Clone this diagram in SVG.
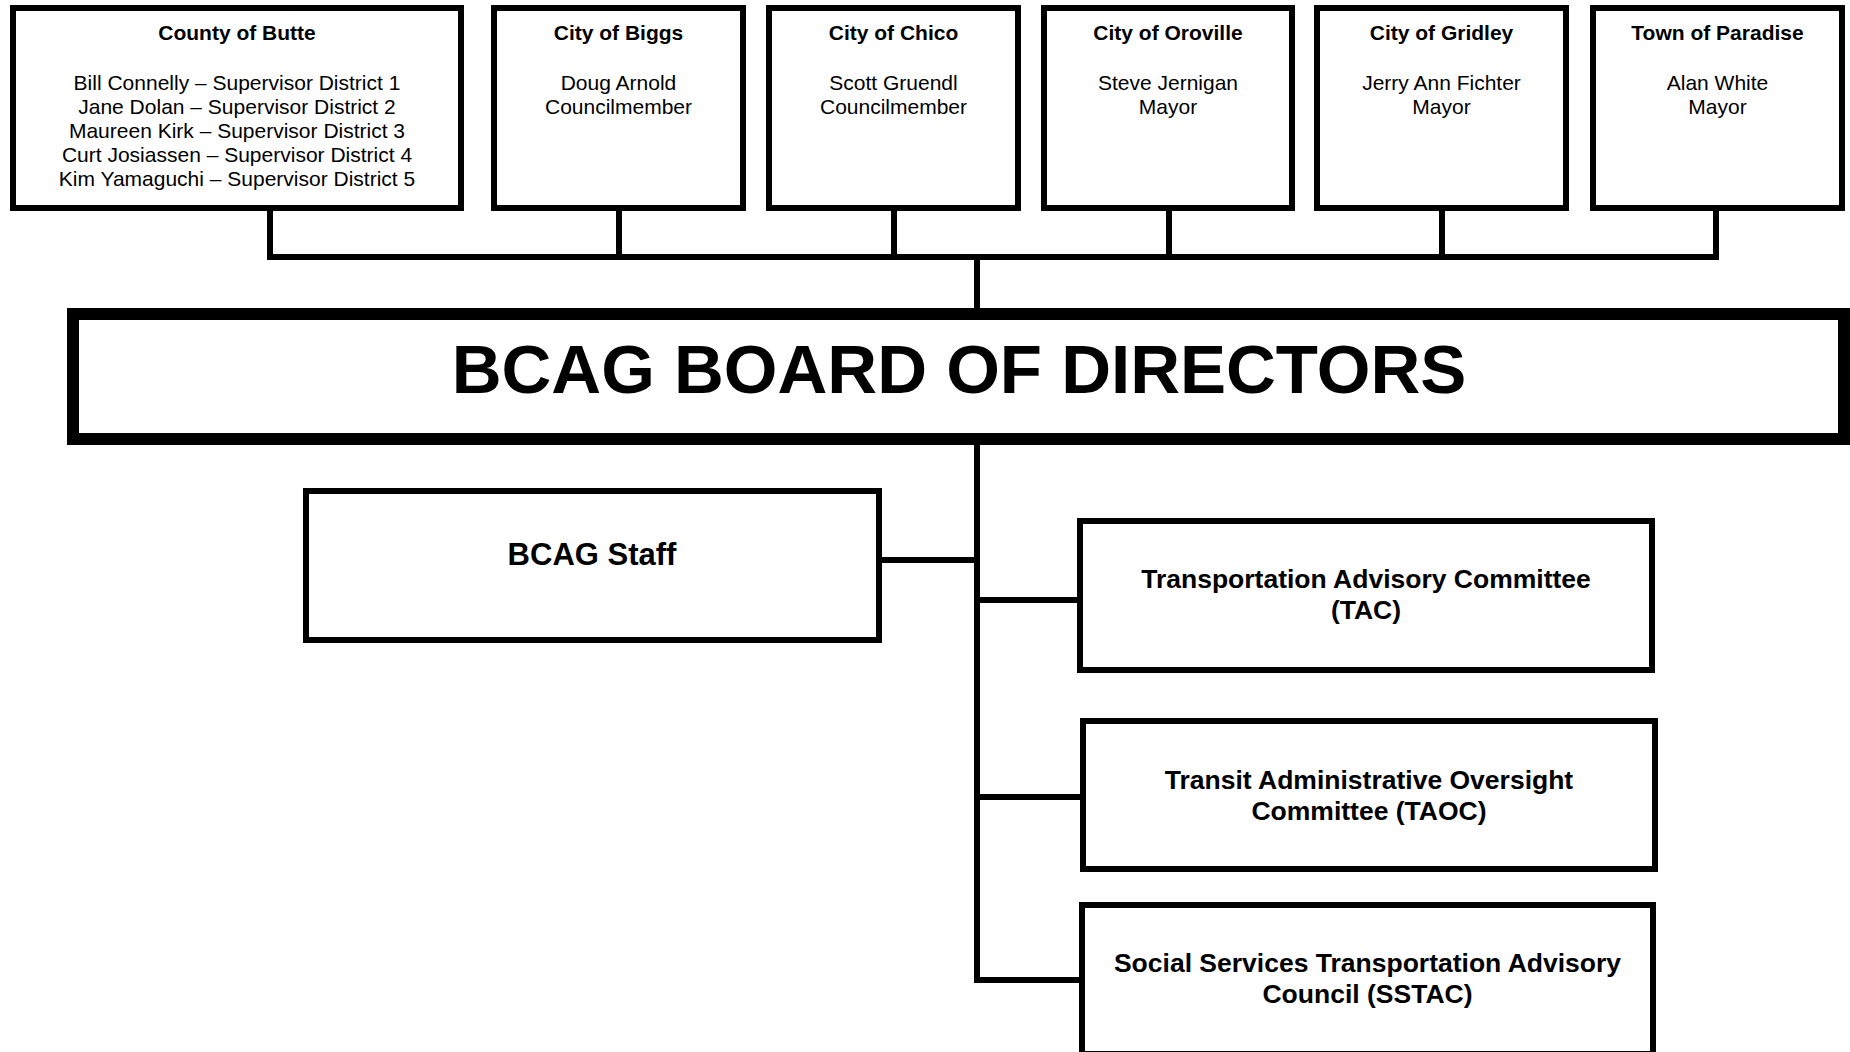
<svg xmlns="http://www.w3.org/2000/svg" width="1850" height="1052" viewBox="0 0 1850 1052">
<style>
.box{fill:#fff;stroke:#000;stroke-width:6}
.board{fill:#fff;stroke:#000;stroke-width:12}
.con{stroke:#000;stroke-width:6;fill:none;stroke-linecap:square}
text{font-family:"Liberation Sans",Arial,sans-serif;fill:#000;text-anchor:middle}
.t{font-weight:bold;font-size:21px}
.b{font-size:21px}
.c{font-weight:bold;font-size:26.5px}
</style>
<rect width="1850" height="1052" fill="#fff"/>
<g id="connectors">
<line class="con" x1="270" y1="214" x2="270" y2="257"/>
<line class="con" x1="619" y1="214" x2="619" y2="257"/>
<line class="con" x1="894" y1="214" x2="894" y2="257"/>
<line class="con" x1="1169" y1="214" x2="1169" y2="257"/>
<line class="con" x1="1442" y1="214" x2="1442" y2="257"/>
<line class="con" x1="1716" y1="214" x2="1716" y2="257"/>
<line class="con" x1="270" y1="257" x2="1716" y2="257"/>
<line class="con" x1="977" y1="257" x2="977" y2="306"/>
<line class="con" x1="977" y1="447" x2="977" y2="980"/>
<line class="con" x1="882" y1="560" x2="977" y2="560"/>
<line class="con" x1="977" y1="600" x2="1077" y2="600"/>
<line class="con" x1="977" y1="797" x2="1080" y2="797"/>
<line class="con" x1="977" y1="980" x2="1079" y2="980"/>
</g>
<g id="county-butte">
<rect class="box" x="13" y="8" width="448" height="200"/>
<text class="t" x="237" y="40">County of Butte</text>
<text class="b" x="237" y="90">Bill Connelly – Supervisor District 1</text>
<text class="b" x="237" y="114">Jane Dolan – Supervisor District 2</text>
<text class="b" x="237" y="138">Maureen Kirk – Supervisor District 3</text>
<text class="b" x="237" y="162">Curt Josiassen – Supervisor District 4</text>
<text class="b" x="237" y="186">Kim Yamaguchi – Supervisor District 5</text>
</g>
<g id="city-biggs">
<rect class="box" x="494" y="8" width="249" height="200"/>
<text class="t" x="618.5" y="40">City of Biggs</text>
<text class="b" x="618.5" y="90">Doug Arnold</text>
<text class="b" x="618.5" y="114">Councilmember</text>
</g>
<g id="city-chico">
<rect class="box" x="769" y="8" width="249" height="200"/>
<text class="t" x="893.5" y="40">City of Chico</text>
<text class="b" x="893.5" y="90">Scott Gruendl</text>
<text class="b" x="893.5" y="114">Councilmember</text>
</g>
<g id="city-oroville">
<rect class="box" x="1044" y="8" width="248" height="200"/>
<text class="t" x="1168" y="40">City of Oroville</text>
<text class="b" x="1168" y="90">Steve Jernigan</text>
<text class="b" x="1168" y="114">Mayor</text>
</g>
<g id="city-gridley">
<rect class="box" x="1317" y="8" width="249" height="200"/>
<text class="t" x="1441.5" y="40">City of Gridley</text>
<text class="b" x="1441.5" y="90">Jerry Ann Fichter</text>
<text class="b" x="1441.5" y="114">Mayor</text>
</g>
<g id="town-paradise">
<rect class="box" x="1593" y="8" width="249" height="200"/>
<text class="t" x="1717.5" y="40">Town of Paradise</text>
<text class="b" x="1717.5" y="90">Alan White</text>
<text class="b" x="1717.5" y="114">Mayor</text>
</g>
<g id="board">
<rect class="board" x="73" y="314" width="1771" height="125"/>
<text x="959" y="393" style="font-weight:bold;font-size:69px">BCAG BOARD OF DIRECTORS</text>
</g>
<g id="staff">
<rect class="box" x="306" y="491" width="573" height="149"/>
<text x="592" y="565" style="font-weight:bold;font-size:31px">BCAG Staff</text>
</g>
<g id="tac">
<rect class="box" x="1080" y="521" width="572" height="149"/>
<text class="c" x="1366" y="588">Transportation Advisory Committee</text>
<text class="c" x="1366" y="619">(TAC)</text>
</g>
<g id="taoc">
<rect class="box" x="1083" y="721" width="572" height="148"/>
<text class="c" x="1369" y="789">Transit Administrative Oversight</text>
<text class="c" x="1369" y="820">Committee (TAOC)</text>
</g>
<g id="sstac">
<rect class="box" x="1082" y="905" width="571" height="149"/>
<text class="c" x="1367.5" y="972">Social Services Transportation Advisory</text>
<text class="c" x="1367.5" y="1003">Council (SSTAC)</text>
</g>
</svg>
